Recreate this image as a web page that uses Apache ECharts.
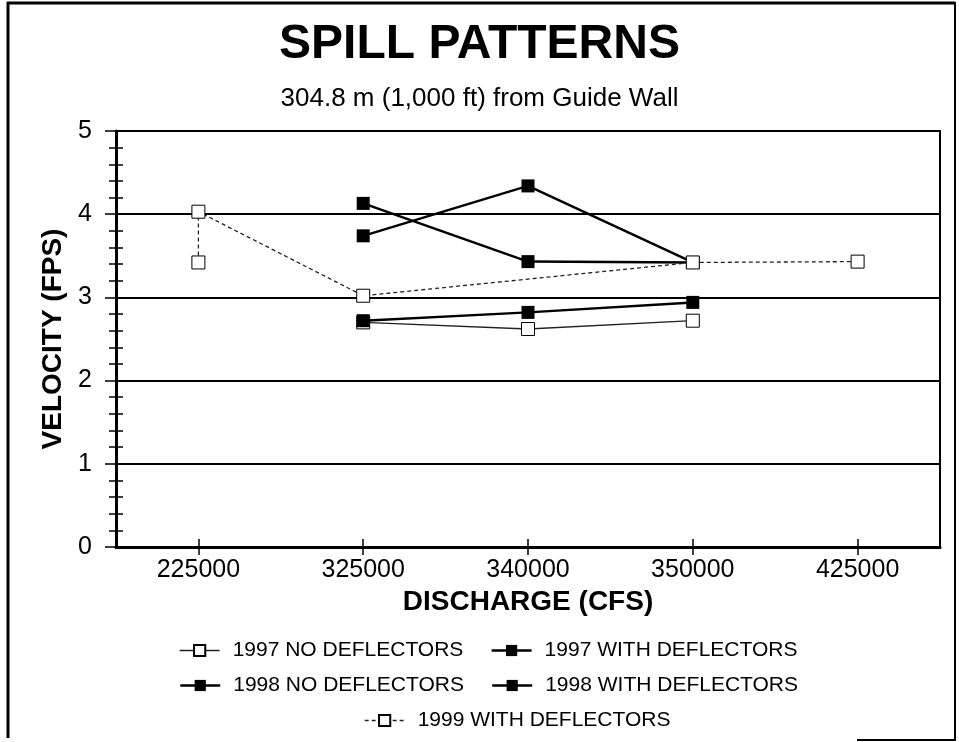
<!DOCTYPE html>
<html>
<head>
<meta charset="utf-8">
<script src="https://cdn.jsdelivr.net/npm/echarts@6/dist/echarts.min.js"></script>
<style>
html, body { margin: 0; background: #fff; }
#canvasWrap { width: 959px; height: 742px; }
</style>
</head>
<body>
<div id="canvasWrap"></div>
<script>
const discharge = ['225000', '325000', '340000', '350000', '425000'];
const noDef1997 = [null, 2.70, 2.62, 2.72, null];
const withDef1997 = [null, 4.13, 3.43, 3.42, null];
const noDef1998 = [null, 3.74, 4.34, 3.42, null];
const withDef1998 = [null, 2.72, 2.82, 2.94, null];
// 1999 has two readings at 225000, so it is kept as [discharge, velocity] pairs
const withDef1999 = [
    ['225000', 3.42],
    ['225000', 4.03],
    ['325000', 3.02],
    ['350000', 3.42],
    ['425000', 3.43]
];

const font = 'Arial, "Liberation Sans", sans-serif';

function filledSeries(name, data) {
    return {
        name: name,
        type: 'line',
        data: data,
        symbol: 'rect',
        symbolSize: 13,
        showAllSymbol: true,
        z: 3,
        itemStyle: { color: '#000' },
        lineStyle: { color: '#000', width: 2.5 }
    };
}

function openSeries(name, data, dash, z) {
    return {
        name: name,
        type: 'line',
        data: data,
        symbol: 'rect',
        symbolSize: 13,
        showAllSymbol: true,
        z: z,
        itemStyle: { color: '#fff', borderColor: '#000', borderWidth: 1 },
        lineStyle: { color: '#222', width: 1.3, type: dash }
    };
}

function legendRow(names, left, top) {
    return {
        data: names,
        left: left,
        top: top,
        itemWidth: 40,
        itemHeight: 14,
        itemGap: 27,
        selectedMode: false,
        lineStyle: { width: 'inherit' },
        textStyle: { fontFamily: font, fontSize: 21, color: '#000', padding: [0, 0, 0, 8] }
    };
}

function yAxisBase(inside) {
    return {
        type: 'value',
        position: 'left',
        min: 0,
        max: 5,
        interval: 1,
        axisLine: { show: !inside, lineStyle: { color: '#000', width: 3 } },
        axisTick: { show: true, inside: inside, length: inside ? 9 : 11, lineStyle: { color: '#000', width: 1.5 } },
        minorTick: { show: true, splitNumber: 5, length: 7, lineStyle: { color: '#000', width: 1.5 } },
        axisLabel: { show: !inside, margin: 24, fontFamily: font, fontSize: 25, color: '#000' },
        splitLine: { show: !inside, lineStyle: { color: '#000', width: 2 } }
    };
}

function xAxisBase(inside) {
    return {
        type: 'category',
        position: 'bottom',
        data: discharge,
        boundaryGap: true,
        axisLine: { show: !inside, lineStyle: { color: '#000', width: 3 } },
        axisTick: { show: true, inside: inside, alignWithLabel: true, length: 8, lineStyle: { color: '#000', width: 1.5 } },
        axisLabel: { show: !inside, margin: 11, fontFamily: font, fontSize: 25, color: '#000' },
        splitLine: { show: false }
    };
}

const myChart = echarts.init(document.getElementById('canvasWrap'));

const xMain = xAxisBase(false);
xMain.name = 'DISCHARGE (CFS)';
xMain.nameLocation = 'middle';
xMain.nameGap = 33;
xMain.nameTextStyle = { fontFamily: font, fontSize: 28, fontWeight: 'bold', color: '#000' };

const yMain = yAxisBase(false);
yMain.name = 'VELOCITY (FPS)';
yMain.nameLocation = 'middle';
yMain.nameRotate = 90;
yMain.nameGap = 39;
yMain.nameTextStyle = { fontFamily: font, fontSize: 28, fontWeight: 'bold', color: '#000' };

const option = {
    backgroundColor: '#fff',
    animation: false,
    title: [{
        text: 'SPILL PATTERNS',
        left: 'center',
        top: 16,
        textStyle: { fontFamily: font, fontSize: 48, fontWeight: 'bold', color: '#000' }
    }, {
        text: '304.8 m (1,000 ft) from Guide Wall',
        left: 'center',
        top: 81,
        textStyle: { fontFamily: font, fontSize: 26, fontWeight: 'normal', color: '#000' }
    }],
    legend: [
        legendRow(['1997 NO DEFLECTORS', '1997 WITH DEFLECTORS'], 174, 635),
        legendRow(['1998 NO DEFLECTORS', '1998 WITH DEFLECTORS'], 174, 670),
        legendRow(['1999 WITH DEFLECTORS'], 359, 705)
    ],
    grid: {
        left: 116,
        right: 19,
        top: 131,
        bottom: 195,
        show: true,
        borderColor: '#000',
        borderWidth: 2
    },
    xAxis: [xMain, xAxisBase(true)],
    yAxis: [yMain, yAxisBase(true)],
    series: [
        openSeries('1997 NO DEFLECTORS', noDef1997, 'solid', 2),
        filledSeries('1997 WITH DEFLECTORS', withDef1997),
        filledSeries('1998 NO DEFLECTORS', noDef1998),
        filledSeries('1998 WITH DEFLECTORS', withDef1998),
        openSeries('1999 WITH DEFLECTORS', withDef1999, [4, 3], 5)
    ],
    graphic: [
        { type: 'line', shape: { x1: 8, y1: 2, x2: 8, y2: 738 }, style: { stroke: '#000', lineWidth: 3 } },
        { type: 'line', shape: { x1: 7, y1: 3, x2: 955, y2: 3 }, style: { stroke: '#000', lineWidth: 3 } },
        { type: 'line', shape: { x1: 955, y1: 2, x2: 955, y2: 740 }, style: { stroke: '#000', lineWidth: 2 } },
        { type: 'line', shape: { x1: 857, y1: 740, x2: 956, y2: 740 }, style: { stroke: '#000', lineWidth: 2 } }
    ]
};

myChart.setOption(option);
</script>
</body>
</html>
